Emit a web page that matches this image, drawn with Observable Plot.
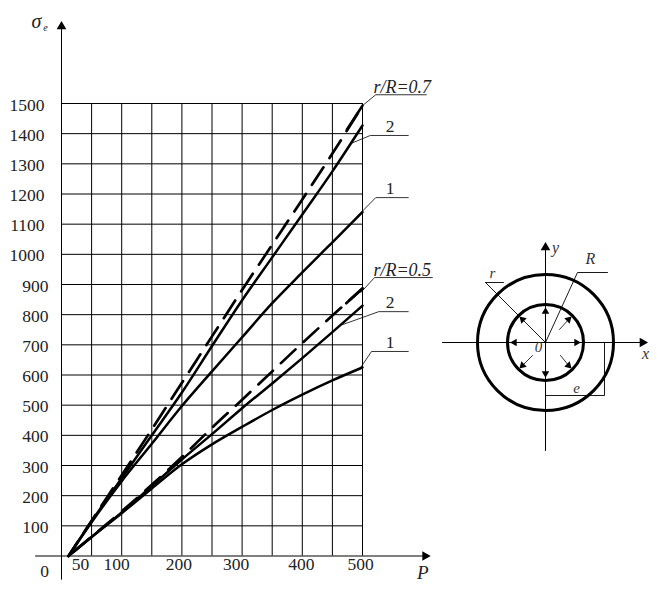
<!DOCTYPE html>
<html><head><meta charset="utf-8">
<script src="https://cdn.jsdelivr.net/npm/d3@7"></script>
<script src="https://cdn.jsdelivr.net/npm/@observablehq/plot@0.6"></script>
<style>html,body{margin:0;padding:0;background:#fff}#c{position:relative;width:662px;height:592px}#c svg{position:absolute;left:0;top:0;background:transparent}#c svg.inset{left:440px;top:230px}</style>
</head><body><div id="c"></div>
<script>
const P07 = [11.6, 50, 100, 150, 200, 250, 300, 350, 400, 450, 500];
const dashed07 = [0, 117, 268, 420, 574, 728, 882, 1032, 1182, 1334, 1493];
const solid2_07 = [0, 115, 258, 400, 542, 696, 848, 990, 1132, 1275, 1427];
const solid1_07 = [0, 112, 248, 372, 497, 612, 725, 838, 940, 1040, 1140];
const dashed05 = [0, 64, 148, 236, 328, 425, 518, 612, 706, 797, 887];
const solid2_05 = [0, 63, 144, 232, 320, 404, 490, 572, 656, 742, 830];
const solid1_05 = [0, 63, 142, 224, 304, 370, 428, 484, 535, 582, 625];
const tail07 = [[474,1413],[500,1493]];
const tail05 = [[473,838],[500,887]];
const yTicks = [100,200,300,400,500,600,700,800,900,1000,1100,1200,1300,1400,1500];
const xGrid = [50,100,150,200,250,300,350,400,450,500];
const xLabels = [[50,-11],[100,-5],[200,-3],[300,-6],[400,-1],[500,-2]];

const leaders = [
  {pts:[[500,1493],[522,1529],[606,1529]]},
  {pts:[[480,1367],[513,1394],[576,1394]]},
  {pts:[[488,1119],[522,1188],[576,1188]]},
  {pts:[[497,873],[520,923],[616,923]]},
  {pts:[[467,767],[527,810],[576,810]]},
  {pts:[[497,625],[515,678],[576,678]]}
];
const curveLabels = [
  {t:"r/R=0.7",x:566,y:1553,i:true},
  {t:"2",x:546,y:1425,i:false},
  {t:"1",x:546,y:1218,i:false},
  {t:"r/R=0.5",x:566,y:946,i:true},
  {t:"2",x:546,y:842,i:false},
  {t:"1",x:546,y:708,i:false}
];
const zip = (xs, ys) => xs.map((x,i)=>[x,ys[i]]);
const serif = "'Liberation Serif','Times New Roman',serif";
const ink = "#222";

const main = Plot.plot({
  width:662, height:592, margin:0,
  x:{domain:[0,500], range:[61,362]},
  y:{domain:[0,1500], range:[555.5,103]},
  axis:null,
  style:{background:"transparent", fontFamily:serif},
  marks:[
    Plot.ruleY(yTicks,{x1:0,x2:500,stroke:"#000",strokeWidth:1}),
    Plot.ruleX(xGrid,{y1:0,y2:1500,stroke:"#000",strokeWidth:1}),
    Plot.ruleY([0],{x1:-43,x2:606,stroke:"#000",strokeWidth:1}),
    Plot.ruleX([0],{y1:-80,y2:1745,stroke:"#000",strokeWidth:1}),
    Plot.dot([[0,1755]],{x:d=>d[0],y:d=>d[1],symbol:"triangle",r:3.6,fill:"#000",stroke:"none"}),
    Plot.dot([[604,0]],{x:d=>d[0],y:d=>d[1],symbol:"triangle",r:3.6,rotate:90,fill:"#000",stroke:"none"}),
    ...[solid1_07,solid2_07,solid1_05,solid2_05].map(s=>Plot.line(zip(P07,s),{x:d=>d[0],y:d=>d[1],stroke:"#000",strokeWidth:2.5,curve:"monotone-x"})),
    Plot.line(zip(P07,dashed07),{x:d=>d[0],y:d=>d[1],stroke:"#000",strokeWidth:2.7,strokeDasharray:"21 11",strokeDashoffset:4,curve:"monotone-x"}),
    Plot.line(zip(P07,dashed05),{x:d=>d[0],y:d=>d[1],stroke:"#000",strokeWidth:2.7,strokeDasharray:"20 11",strokeDashoffset:23,curve:"monotone-x"}),
    ...[tail07,tail05].map(s=>Plot.line(s,{x:d=>d[0],y:d=>d[1],stroke:"#000",strokeWidth:2.7})),
    ...leaders.map(l=>Plot.line(l.pts,{x:d=>d[0],y:d=>d[1],stroke:"#000",strokeWidth:0.8})),
    Plot.text(yTicks.filter(v=>v>=1000),{x:0,y:d=>d,text:d=>String(d),textAnchor:"end",dx:-17,dy:1.5,fontSize:17.5,fill:ink}),
    Plot.text(yTicks.filter(v=>v<1000),{x:0,y:d=>d,text:d=>String(d),textAnchor:"end",dx:-13,dy:1.5,fontSize:17.5,fill:ink}),
    ...xLabels.map(([v,dx])=>Plot.text([v],{x:d=>d,y:0,text:d=>String(d),dx,dy:2,lineAnchor:"top",fontSize:17.5,fill:ink})),
    Plot.text(["0"],{x:0,y:0,text:d=>d,dx:-17,dy:9,lineAnchor:"top",fontSize:17.5,fill:ink}),
    Plot.text(["P"],{x:600,y:0,text:d=>d,dy:9,lineAnchor:"top",fontSize:19,fontStyle:"italic",fill:ink}),
    Plot.text(["σ"],{x:0,y:1768,text:d=>d,dx:-25,dy:-1,fontSize:20,fontStyle:"italic",fill:ink}),
    Plot.text(["e"],{x:0,y:1768,text:d=>d,dx:-16,dy:5,fontSize:10,fontStyle:"italic",fill:ink}),
    ...curveLabels.map(c=>Plot.text([c],{x:d=>d.x,y:d=>d.y,text:d=>d.t,fontSize:c.i?18:17.5,fontStyle:c.i?"italic":"normal",fill:ink}))
  ]
});

const outerR = [68], innerR = [38];
const axisXLine = [[-103,0],[95,0]], axisYLine = [[0,92],[0,-108]];
const arrowHeads = [
  {x:31,y:0,a:90},{x:-31,y:0,a:-90},{x:0,y:31,a:0},{x:0,y:-31,a:180},
  {x:23,y:23,a:45},{x:-23,y:23,a:-45},{x:23,y:-23,a:135},{x:-23,y:-23,a:-135}
];
const shafts = [
  [[14,13],[24,24]],[[-13,-13],[-24,-24]],[[15,-13],[24,-24]]
];
const rLeader = [[-60,60],[0,0]], rFlag = [[-60,60],[-42,60]];
const RLeader = [[0,0],[32,70],[62,70]];
const eDim = [[0,-53],[59,-53],[59,0]];
const insetText = [
  {t:"r",x:-53,y:69,f:15},{t:"R",x:45,y:84,f:16},{t:"y",x:10,y:95,f:16},
  {t:"x",x:100,y:-11,f:16},{t:"0",x:-7,y:-5,f:15},{t:"e",x:31,y:-46,f:15}
];
const inset = Plot.plot({
  width:222, height:225, margin:0,
  x:{domain:[-105,117], range:[0,222]},
  y:{domain:[-113,112], range:[225,0]},
  axis:null,
  style:{background:"transparent", fontFamily:serif},
  marks:[
    Plot.line(axisXLine,{x:d=>d[0],y:d=>d[1],stroke:"#000",strokeWidth:1}),
    Plot.line(axisYLine,{x:d=>d[0],y:d=>d[1],stroke:"#000",strokeWidth:1}),
    Plot.dot([[0,0]],{x:d=>d[0],y:d=>d[1],r:outerR[0],stroke:"#000",strokeWidth:3,fill:"none"}),
    Plot.dot([[0,0]],{x:d=>d[0],y:d=>d[1],r:innerR[0],stroke:"#000",strokeWidth:3,fill:"none"}),
    Plot.dot([[97,0]],{x:d=>d[0],y:d=>d[1],symbol:"triangle",r:3.6,rotate:90,fill:"#000",stroke:"none"}),
    Plot.dot([[0,95]],{x:d=>d[0],y:d=>d[1],symbol:"triangle",r:3.6,fill:"#000",stroke:"none"}),
    Plot.dot(arrowHeads,{x:"x",y:"y",rotate:"a",symbol:"triangle",r:2.8,fill:"#000",stroke:"none"}),
    ...shafts.map(s=>Plot.line(s,{x:d=>d[0],y:d=>d[1],stroke:"#000",strokeWidth:0.8})),
    ...[rLeader,rFlag,RLeader,eDim].map(s=>Plot.line(s,{x:d=>d[0],y:d=>d[1],stroke:"#000",strokeWidth:0.9})),
    ...insetText.map(c=>Plot.text([c],{x:d=>d.x,y:d=>d.y,text:d=>d.t,fontSize:c.f,fontStyle:"italic",fill:"#333"}))
  ]
});
inset.classList.add("inset");
const c=document.getElementById("c");
c.append(main,inset);
</script></body></html>
